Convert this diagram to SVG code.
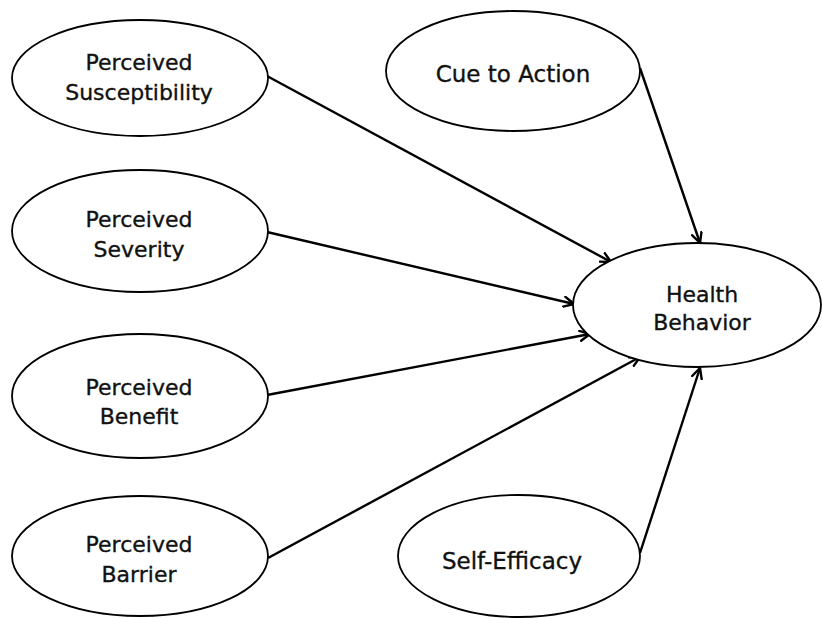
<svg xmlns="http://www.w3.org/2000/svg" width="822" height="618" viewBox="0 0 822 618">
<defs>
<style>
.node ellipse{fill:#fff;stroke:#000;stroke-width:1.8}
.node text{font-family:"DejaVu Sans",Verdana,sans-serif;font-size:22px;fill:#111;stroke:#111;stroke-width:0.35;text-anchor:middle}
.node text.big{font-size:23px}
.edges line{stroke:#000;stroke-width:2.4;marker-end:url(#arr)}
</style>
<marker id="arr" viewBox="0 0 12 12" refX="11" refY="6" markerWidth="12" markerHeight="12" markerUnits="userSpaceOnUse" orient="auto">
<path d="M1,1 L11,6 L1,11" fill="none" stroke="#000" stroke-width="2.4" stroke-linecap="round" stroke-linejoin="round"/>
</marker>
</defs>
<rect width="822" height="618" fill="#fff"/>
<g class="edges" id="connectors">
<line x1="267" y1="76" x2="611" y2="262"/>
<line x1="267" y1="232" x2="574" y2="304"/>
<line x1="267" y1="395" x2="590" y2="334"/>
<line x1="268" y1="558" x2="640" y2="357"/>
<line x1="640" y1="68" x2="700" y2="243"/>
<line x1="640" y1="553" x2="700" y2="368"/>
</g>
<g class="node" id="susceptibility">
<ellipse cx="140" cy="78" rx="128" ry="58"/>
<text x="139" y="70">Perceived</text>
<text x="139" y="100">Susceptibility</text>
</g>
<g class="node" id="severity">
<ellipse cx="140" cy="231" rx="128" ry="61"/>
<text x="139" y="227">Perceived</text>
<text x="139" y="257">Severity</text>
</g>
<g class="node" id="benefit">
<ellipse cx="140" cy="396" rx="128" ry="62"/>
<text x="139" y="395">Perceived</text>
<text x="139" y="424">Benefit</text>
</g>
<g class="node" id="barrier">
<ellipse cx="140" cy="556" rx="128" ry="60"/>
<text x="139" y="552">Perceived</text>
<text x="139" y="582">Barrier</text>
</g>
<g class="node" id="cue">
<ellipse cx="513" cy="71" rx="127" ry="60"/>
<text class="big" x="513" y="82">Cue to Action</text>
</g>
<g class="node" id="health">
<ellipse cx="697" cy="305" rx="124" ry="62"/>
<text x="702" y="302">Health</text>
<text x="702" y="330">Behavior</text>
</g>
<g class="node" id="selfefficacy">
<ellipse cx="519" cy="556" rx="121" ry="61"/>
<text class="big" x="512" y="569">Self-Efficacy</text>
</g>
</svg>
